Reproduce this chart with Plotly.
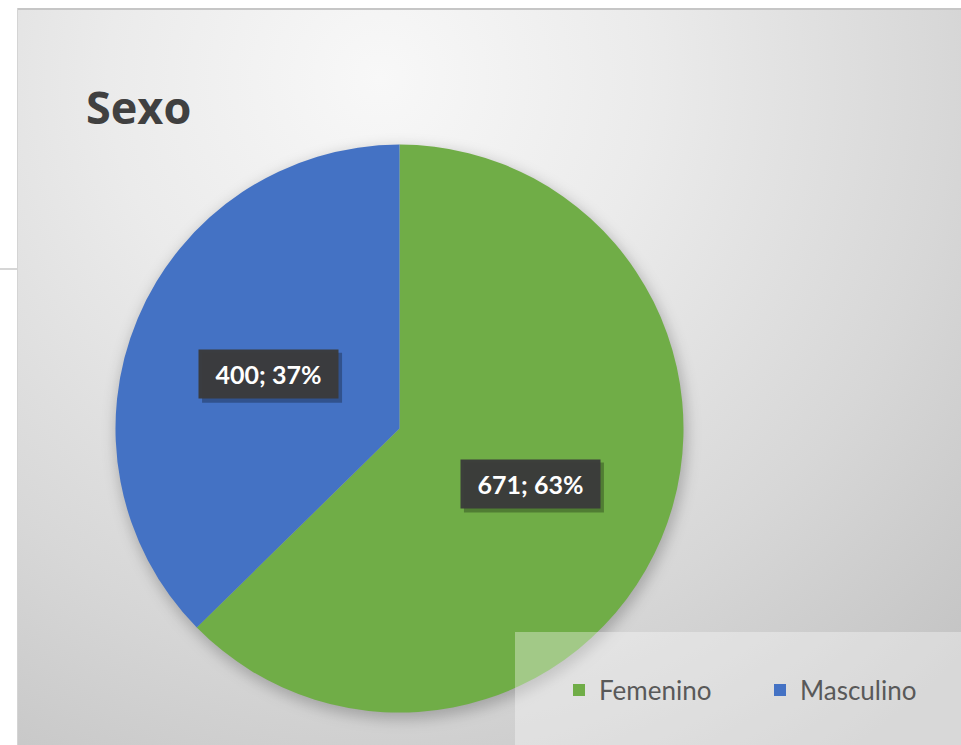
import base64
import math
import plotly.graph_objects as go

# ---- data ----
categories = ["Femenino", "Masculino"]
values = [671, 400]
colors = ["#70AD47", "#4472C4"]
title_text = "Sexo"

# ---- layout constants (pixels) ----
W, H = 961, 745
CARD_X0, CARD_Y0 = 17, 8
PIE_CX, PIE_CY, PIE_R = 399.5, 428.6, 284
FONT = "Lato"
TITLE_FONT = "Open Sans"

def px_x(x):
    return x / W

def px_y(y):
    return 1 - y / H

# background card (radial gradient + soft pie shadow) as SVG
cw, ch = W - CARD_X0, H - CARD_Y0
scx, scy = PIE_CX - CARD_X0, PIE_CY - CARD_Y0
svg = f"""<svg xmlns='http://www.w3.org/2000/svg' width='{cw}' height='{ch}' viewBox='0 0 {cw} {ch}' preserveAspectRatio='none'>
<defs>
<radialGradient id='g' gradientUnits='userSpaceOnUse' cx='{scx-20}' cy='70' r='820'>
<stop offset='0' stop-color='#f8f8f8'/>
<stop offset='0.33' stop-color='#ebebeb'/>
<stop offset='0.70' stop-color='#d7d7d7'/>
<stop offset='0.92' stop-color='#c9c9c9'/>
<stop offset='1' stop-color='#c4c4c4'/>
</radialGradient>
<filter id='b' x='-20%' y='-20%' width='140%' height='140%'><feGaussianBlur stdDeviation='7'/></filter>
</defs>
<rect x='0' y='0' width='{cw}' height='{ch}' fill='url(#g)'/>
<circle cx='{scx+2}' cy='{scy+5}' r='{PIE_R+2}' fill='rgba(0,0,0,0.22)' filter='url(#b)'/>
<rect x='0' y='0' width='{cw}' height='2' fill='#c6c6c6'/>
<rect x='0' y='0' width='1' height='{ch}' fill='#d4d4d4'/>
</svg>"""
svg_uri = "data:image/svg+xml;base64," + base64.b64encode(svg.encode()).decode()

fig = go.Figure()
fig.add_trace(go.Pie(
    labels=categories,
    values=values,
    marker=dict(colors=colors, line=dict(width=0)),
    sort=False,
    direction="clockwise",
    rotation=0,
    textinfo="none",
    domain=dict(
        x=[px_x(PIE_CX - PIE_R), px_x(PIE_CX + PIE_R)],
        y=[px_y(PIE_CY + PIE_R), px_y(PIE_CY - PIE_R)],
    ),
))

# data labels: value; percent, placed at half radius along slice mid-angle
total = sum(values)
shapes = []
annotations = []
cum = 0
BOX_W, BOX_H = 139, 48
for v in values:
    frac = v / total
    mid = (cum + frac / 2) * 2 * math.pi
    cum += frac
    lx = PIE_CX + 0.5 * PIE_R * math.sin(mid)
    ly = PIE_CY - 0.5 * PIE_R * math.cos(mid)
    # shadow
    shapes.append(dict(
        type="rect", xref="paper", yref="paper", layer="above",
        x0=px_x(lx - BOX_W / 2 + 3), x1=px_x(lx + BOX_W / 2 + 4),
        y0=px_y(ly + BOX_H / 2 + 5), y1=px_y(ly - BOX_H / 2 + 3),
        fillcolor="rgba(0,0,0,0.28)", line=dict(width=0),
    ))
    annotations.append(dict(
        xref="paper", yref="paper", x=px_x(lx), y=px_y(ly),
        xanchor="center", yanchor="middle",
        text=f"<b>{v}; {round(frac * 100)}%</b>",
        showarrow=False,
        font=dict(family=FONT, size=25, color="white"),
        bgcolor="rgba(58,58,58,0.96)",
        width=BOX_W, height=BOX_H, borderpad=0,
    ))

# translucent legend panel
shapes.append(dict(
    type="rect", xref="paper", yref="paper", layer="above",
    x0=px_x(515), x1=1, y0=0, y1=px_y(632),
    fillcolor="rgba(255,255,255,0.35)", line=dict(width=0),
))
# small outside line on the left
shapes.append(dict(
    type="line", xref="paper", yref="paper",
    x0=0, x1=px_x(CARD_X0), y0=px_y(269), y1=px_y(269),
    line=dict(color="#c8c8c8", width=1.5),
))

fig.update_layout(
    width=W, height=H,
    margin=dict(l=0, r=0, t=0, b=0),
    paper_bgcolor="white",
    plot_bgcolor="rgba(0,0,0,0)",
    font=dict(family=FONT),
    title=dict(
        text=f"<b>{title_text}</b>",
        x=px_x(86), xanchor="left",
        y=px_y(108), yanchor="middle",
        font=dict(family=TITLE_FONT, size=45, color="#404040"),
    ),
    images=[dict(
        source=svg_uri, xref="paper", yref="paper",
        x=px_x(CARD_X0), y=px_y(CARD_Y0),
        sizex=1 - px_x(CARD_X0), sizey=px_y(CARD_Y0),
        xanchor="left", yanchor="top", sizing="stretch", layer="below",
    )],
    showlegend=True,
    legend=dict(
        orientation="h",
        x=1, xanchor="right",
        y=px_y(690), yanchor="middle",
        bgcolor="rgba(0,0,0,0)",
        font=dict(family=FONT, size=26, color="#595959"),
        entrywidth=156, entrywidthmode="pixels",
        traceorder="normal",
    ),
    shapes=shapes,
    annotations=annotations,
)

page_fix = (
    "var d=document.documentElement,b=document.body;"
    "d.style.margin='0';b.style.margin='0';b.style.padding='0';"
    "d.style.overflow='hidden';b.style.overflow='hidden';"
)

fig.write_html(
    "out.html",
    config={"displayModeBar": False},
    post_script=page_fix,
)
